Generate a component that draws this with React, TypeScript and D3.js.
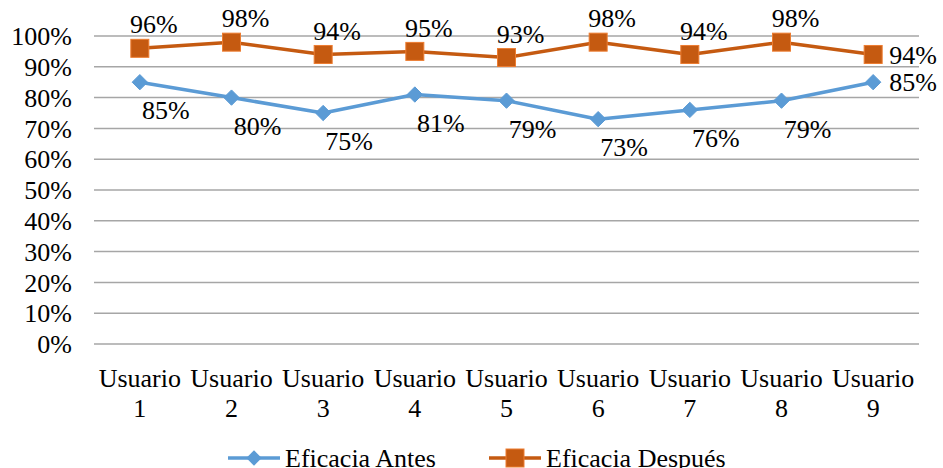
import React, { useRef, useEffect } from 'react';
import * as d3 from 'd3';

const categories = ['Usuario 1', 'Usuario 2', 'Usuario 3', 'Usuario 4', 'Usuario 5', 'Usuario 6', 'Usuario 7', 'Usuario 8', 'Usuario 9'];
const antes = [0.85, 0.80, 0.75, 0.81, 0.79, 0.73, 0.76, 0.79, 0.85];
const despues = [0.96, 0.98, 0.94, 0.95, 0.93, 0.98, 0.94, 0.98, 0.94];
const yTicks = [0, 0.1, 0.2, 0.3, 0.4, 0.5, 0.6, 0.7, 0.8, 0.9, 1];

const BLUE = '#5B9BD5';
const ORANGE = '#C55A11';
const FONT = 'Liberation Serif';

export default function App() {
    const svgRef = useRef<SVGSVGElement>(null);

    useEffect(() => {
        const svg = d3.select(svgRef.current);
        svg.selectAll('*').remove();

        const width = 943;
        const height = 468;
        const marginLeft = 94;
        const marginRight = 24;
        const marginTop = 36;
        const plotBottom = 344;

        const x = d3.scaleBand()
            .domain(categories)
            .range([marginLeft, width - marginRight]);

        const y = d3.scaleLinear()
            .domain([0, 1])
            .range([plotBottom, marginTop]);

        const cx = (c: string) => (x(c) as number) + x.bandwidth() / 2;
        const fmt = d3.format('.0%');

        svg.attr('width', width).attr('height', height);

        // gridlines
        svg.append('g')
            .selectAll('line')
            .data(yTicks)
            .join('line')
            .attr('x1', marginLeft)
            .attr('x2', width - marginRight)
            .attr('y1', d => y(d))
            .attr('y2', d => y(d))
            .attr('stroke', '#a6a6a6')
            .attr('stroke-width', 1.5);

        const txt = (sel: any) => sel
            .attr('font-family', FONT)
            .attr('font-size', 26)
            .attr('fill', '#000');

        // y labels
        svg.append('g')
            .selectAll('text')
            .data(yTicks)
            .join('text')
            .call(txt)
            .attr('x', 72)
            .attr('y', d => y(d))
            .attr('dy', '0.35em')
            .attr('text-anchor', 'end')
            .text(d => fmt(d));

        // x labels (two lines)
        const xl = svg.append('g')
            .selectAll('text')
            .data(categories)
            .join('text')
            .call(txt)
            .attr('text-anchor', 'middle');
        xl.append('tspan')
            .attr('x', d => cx(d))
            .attr('y', 387)
            .text(d => d.split(' ')[0]);
        xl.append('tspan')
            .attr('x', d => cx(d))
            .attr('y', 417)
            .text(d => d.split(' ')[1]);

        const line = d3.line<number>()
            .x((_, i) => cx(categories[i]))
            .y(d => y(d));

        // Antes series
        svg.append('path')
            .datum(antes)
            .attr('d', line)
            .attr('fill', 'none')
            .attr('stroke', BLUE)
            .attr('stroke-width', 3.5)
            .attr('stroke-linejoin', 'round');

        svg.append('g')
            .selectAll('path')
            .data(antes)
            .join('path')
            .attr('d', d3.symbol(d3.symbolDiamond2, 150))
            .attr('transform', (d, i) => `translate(${cx(categories[i])},${y(d)})`)
            .attr('fill', BLUE)
            .attr('stroke', BLUE);

        // Despues series
        svg.append('path')
            .datum(despues)
            .attr('d', line)
            .attr('fill', 'none')
            .attr('stroke', ORANGE)
            .attr('stroke-width', 3.5)
            .attr('stroke-linejoin', 'round');

        svg.append('g')
            .selectAll('rect')
            .data(despues)
            .join('rect')
            .attr('x', (_, i) => cx(categories[i]) - 9)
            .attr('y', d => y(d) - 9)
            .attr('width', 18)
            .attr('height', 18)
            .attr('fill', ORANGE)
            .attr('stroke', '#ED7D31')
            .attr('stroke-width', 1);

        // data labels
        const last = categories.length - 1;
        svg.append('g')
            .selectAll('text')
            .data(antes)
            .join('text')
            .call(txt)
            .attr('x', (_, i) => cx(categories[i]) + (i === last ? 40 : 26))
            .attr('y', (d, i) => y(d) + (i === last ? 0 : 28))
            .attr('dy', '0.35em')
            .attr('text-anchor', 'middle')
            .text(d => fmt(d));

        svg.append('g')
            .selectAll('text')
            .data(despues)
            .join('text')
            .call(txt)
            .attr('x', (_, i) => cx(categories[i]) + (i === last ? 40 : 14))
            .attr('y', (d, i) => y(d) + (i === last ? 0 : -24))
            .attr('dy', '0.35em')
            .attr('text-anchor', 'middle')
            .text(d => fmt(d));

        // legend
        const legend = svg.append('g').attr('transform', 'translate(0,458)');
        const items = [
            { name: 'Eficacia Antes', color: BLUE, x0: 228, shape: 'diamond' },
            { name: 'Eficacia Después', color: ORANGE, x0: 489, shape: 'square' },
        ];
        items.forEach(it => {
            legend.append('line')
                .attr('x1', it.x0).attr('x2', it.x0 + 52)
                .attr('y1', 0).attr('y2', 0)
                .attr('stroke', it.color)
                .attr('stroke-width', 3.5);
            if (it.shape === 'diamond') {
                legend.append('path')
                    .attr('d', d3.symbol(d3.symbolDiamond2, 150)())
                    .attr('transform', `translate(${it.x0 + 26},0)`)
                    .attr('fill', it.color);
            } else {
                legend.append('rect')
                    .attr('x', it.x0 + 17).attr('y', -9)
                    .attr('width', 18).attr('height', 18)
                    .attr('fill', it.color)
                    .attr('stroke', '#ED7D31');
            }
            legend.append('text')
                .call(txt)
                .attr('x', it.x0 + 57)
                .attr('y', 0)
                .attr('dy', '0.35em')
                .text(it.name);
        });
    }, []);

    return (
        <svg ref={svgRef} style={{ position: 'absolute', left: 0, top: 0, display: 'block', background: '#fff' }}></svg>
    );
}
